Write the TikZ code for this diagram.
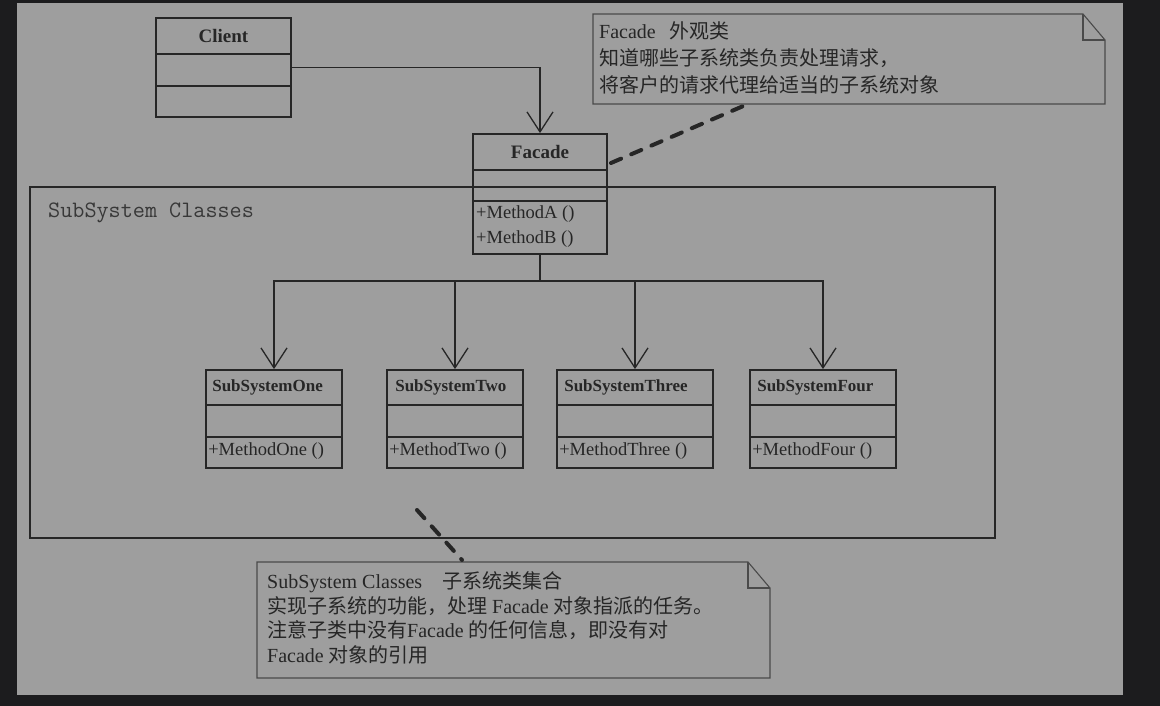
\documentclass[tikz,border=0pt]{standalone}
\usepackage{fontspec}
\setmainfont{Liberation Serif}
\newfontfamily\cjk{Noto Sans CJK SC}
\usetikzlibrary{arrows.meta}
\definecolor{darkbg}{HTML}{1C1C1E}
\definecolor{graybg}{HTML}{9E9E9E}
\definecolor{ink}{HTML}{262626}
\definecolor{noteline}{HTML}{4A4A4A}
\tikzset{
  cls/.style={draw=ink, line width=1.8pt, rectangle, inner sep=0pt},
  divider/.style={draw=ink, line width=1.8pt},
  title/.style={inner sep=0pt, text=ink, font=\fontsize{19}{21}\selectfont\bfseries},
  subtitle/.style={inner sep=0pt, text=ink, anchor=west, font=\fontsize{17}{20}\selectfont\bfseries},
  meth/.style={inner sep=0pt, text=ink, anchor=west, font=\fontsize{18.5}{20}\selectfont},
  conn/.style={draw=ink, line width=1.3pt},
  arr/.style={conn, -{Straight Barb[length=20pt,width=26pt]}},
  notebox/.style={draw=noteline, line width=1.1pt},
  notetext/.style={inner sep=0pt, text=ink, anchor=base west, font=\fontsize{20}{25}\selectfont},
  dashline/.style={draw=ink, line width=4pt, line cap=round, dash pattern=on 11pt off 11pt},
}
\begin{document}
\begin{tikzpicture}[x=1pt,y=-1pt]
\fill[darkbg] (0,0) rectangle (1160,706);
\useasboundingbox (0,0) rectangle (1160,706);
\fill[graybg] (17,3) rectangle (1123,695);

% SubSystem frame
\draw[ink, line width=1.8pt] (30,187) rectangle (995,538);
\node[inner sep=0pt, text=ink!85!graybg, anchor=base west, font=\ttfamily\fontsize{23.5}{26}\selectfont] (frameT) at (48,217) {SubSystem Classes};

% Client
\node[cls, minimum width=135pt, minimum height=99pt] (client) at (223.5,67.5) {};
\draw[divider] (client.west |- 0,54) -- (client.east |- 0,54);
\draw[divider] (client.west |- 0,86) -- (client.east |- 0,86);
\node[title] (clientT) at (223.5,36) {Client};

% Facade
\node[cls, minimum width=134pt, minimum height=120pt] (facade) at (540,194) {};
\draw[divider] (facade.west |- 0,170) -- (facade.east |- 0,170);
\draw[divider] (facade.west |- 0,201) -- (facade.east |- 0,201);
\node[title] (facadeT) at (540,152) {Facade};
\node[meth] (facadeA) at (476,214) {+MethodA ()};
\node[meth] (facadeB) at (476,239) {+MethodB ()};

% Subsystems
\node[cls, minimum width=136pt, minimum height=98pt] (one) at (274,419) {};
\node[cls, minimum width=136pt, minimum height=98pt] (two) at (455,419) {};
\node[cls, minimum width=156pt, minimum height=98pt] (three) at (635,419) {};
\node[cls, minimum width=146pt, minimum height=98pt] (four) at (823,419) {};
\foreach \b in {one,two,three,four}{
  \draw[divider] (\b.west |- 0,405) -- (\b.east |- 0,405);
  \draw[divider] (\b.west |- 0,437) -- (\b.east |- 0,437);
}
\node[subtitle] (oneT) at ([xshift=7pt]one.west |- 0,387) {SubSystemOne};
\node[subtitle] (twoT) at ([xshift=9pt]two.west |- 0,387) {SubSystemTwo};
\node[subtitle] (threeT) at ([xshift=8pt]three.west |- 0,387) {SubSystemThree};
\node[subtitle] (fourT) at ([xshift=8pt]four.west |- 0,387) {SubSystemFour};
\node[meth] (oneM) at ([xshift=3pt]one.west |- 0,451) {+MethodOne ()};
\node[meth] (twoM) at ([xshift=3pt]two.west |- 0,451) {+MethodTwo ()};
\node[meth] (threeM) at ([xshift=3pt]three.west |- 0,451) {+MethodThree ()};
\node[meth] (fourM) at ([xshift=3pt]four.west |- 0,451) {+MethodFour ()};

% Connectors
\draw[arr] (client.east) -| (facade.north);
\coordinate (hub) at (540,281);
\draw[conn] (facade.south) -- (hub);
\draw[arr] (hub) -| (one.north);
\draw[arr] (hub) -| (two.north);
\draw[arr] (hub) -| (three.north);
\draw[arr] (hub) -| (four.north);

% Note 1
\draw[notebox, fill=graybg] (593,14) -- (1083,14) -- (1105,40) -- (1105,104) -- (593,104) -- cycle;
\draw[notebox] (1083,14) -- (1083,40) -- (1105,40);
\node[notetext] (n1a) at (599,39) {Facade\hspace{0.7em}{\cjk 外观类}};
\node[notetext] (n1b) at (599,66) {\cjk 知道哪些子系统类负责处理请求，};
\node[notetext] (n1c) at (599,93) {\cjk 将客户的请求代理给适当的子系统对象};

% Note 2
\draw[notebox, fill=graybg] (257,562) -- (748,562) -- (770,588) -- (770,678) -- (257,678) -- cycle;
\draw[notebox] (748,562) -- (748,588) -- (770,588);
\node[notetext] (n2a) at (267,588) {SubSystem Classes\hspace{1em}{\cjk 子系统类集合}};
\node[notetext] (n2b) at (267,613) {{\cjk 实现子系统的功能，处理} Facade {\cjk 对象指派的任务。}};
\node[notetext] (n2c) at (267,637) {{\cjk 注意子类中没有}Facade {\cjk 的任何信息，即没有对}};
\node[notetext] (n2d) at (267,662) {Facade {\cjk 对象的引用}};

% dashed anchors
\coordinate (d1a) at (611,163);
\coordinate (d1b) at (748,104);
\draw[dashline] (d1a) -- (d1b);
\coordinate (d2a) at (417,510);
\coordinate (d2b) at (462,560);
\draw[dashline] (d2a) -- (d2b);
\end{tikzpicture}
\end{document}
